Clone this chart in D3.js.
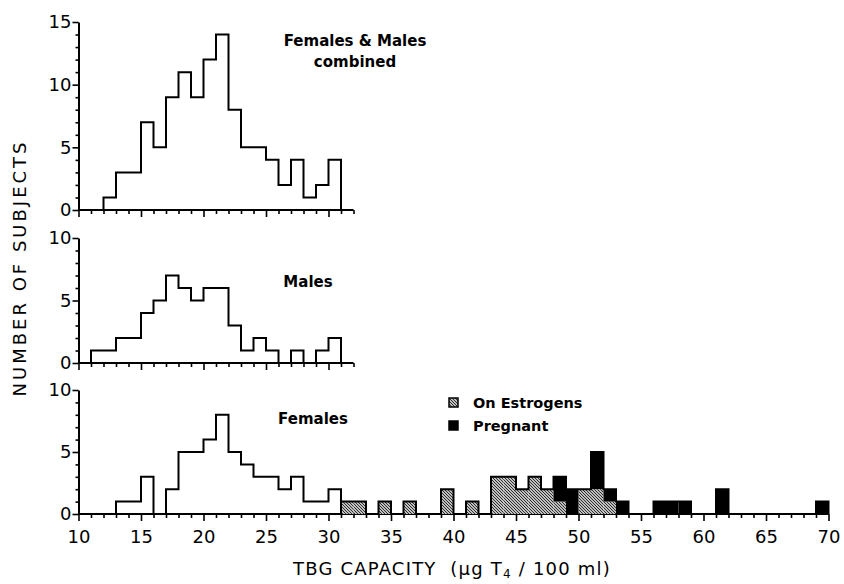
<!DOCTYPE html>
<html>
<head>
<meta charset="utf-8">
<script src="https://cdn.jsdelivr.net/npm/d3@7"></script>
<style>
  body { margin: 0; background: #fff; }
  svg { display: block; }
</style>
</head>
<body>
<div id="chart"></div>
<script>
// histogram counts, one value per 1-unit bin starting at the given TBG value
const combinedStart = 12
const combinedCounts = [1, 3, 3, 7, 5, 9, 11, 9, 12, 14, 8, 5, 5, 4, 2, 4, 1, 2, 4]
const maleStart = 11
const maleCounts = [1, 1, 2, 2, 4, 5, 7, 6, 5, 6, 6, 3, 1, 2, 1, 0, 1, 0, 1, 2]
const femaleStart = 13
const femaleCounts = [1, 1, 3, 0, 2, 5, 5, 6, 8, 5, 4, 3, 3, 2, 3, 1, 1, 2]

const estrogenBins = [31, 32, 34, 36, 39, 41, 43, 44, 45, 46, 47, 48, 50, 51, 52]
const estrogenCounts = [1, 1, 1, 1, 2, 1, 3, 3, 2, 3, 2, 1, 2, 2, 1]
const pregnantBins = [48, 49, 51, 52, 53, 56, 57, 58, 61, 69]
const pregnantCounts = [2, 2, 3, 1, 1, 1, 1, 1, 2, 1]

const xLabelTicks = d3.range(10, 71, 5)
const legendItems = ['On Estrogens', 'Pregnant']

const width = 844
const height = 584
const font = 'DejaVu Sans'

const svg = d3.select('#chart')
  .append('svg')
  .attr('width', width)
  .attr('height', height)
  .attr('viewBox', [0, 0, width, height].join(' '))

svg.append('rect').attr('width', width).attr('height', height).attr('fill', '#fff')

const defs = svg.append('defs')
const hatch = defs.append('pattern')
  .attr('id', 'hatch')
  .attr('patternUnits', 'userSpaceOnUse')
  .attr('width', 3)
  .attr('height', 3)
hatch.append('rect').attr('width', 3).attr('height', 3).attr('fill', '#fff')
hatch.append('path')
  .attr('d', 'M0,0 L3,3 M-1,2 L1,4 M2,-1 L4,1')
  .attr('stroke', '#222')
  .attr('stroke-width', 1.1)

const x = d3.scaleLinear().domain([10, 70]).range([78.5, 828.5])

const panels = [
  { start: combinedStart, counts: combinedCounts, max: 15, range: [210, 22], end: 32,
    label: ['Females & Males', 'combined'], labelPos: [355, 46] },
  { start: maleStart, counts: maleCounts, max: 10, range: [363, 238], end: 32,
    label: ['Males'], labelPos: [308, 287] },
  { start: femaleStart, counts: femaleCounts, max: 10, range: [514, 390], end: 70,
    label: ['Females'], labelPos: [313, 424] }
]

const stepLine = y => d3.line()
  .x(d => x(d.v))
  .y(d => y(d.c))
  .curve(d3.curveStepAfter)

const stepPoints = (start, counts) => [
  { v: start, c: 0 },
  ...counts.map((c, i) => ({ v: start + i, c })),
  { v: start + counts.length, c: 0 }
]

panels.forEach((p, idx) => {
  const y = d3.scaleLinear().domain([0, p.max]).range(p.range)
  const g = svg.append('g').attr('class', 'panel')
  p.y = y

  // Y axis
  const yAxis = g.append('g')
    .attr('transform', `translate(${x(10)},0)`)
    .call(d3.axisLeft(y)
      .tickValues(d3.range(0, p.max + 1))
      .tickSize(3)
      .tickSizeOuter(0)
      .tickFormat(d => d % 5 === 0 ? d : ''))
  yAxis.select('.domain').attr('stroke', '#000').attr('stroke-width', 2)
  yAxis.selectAll('.tick line')
    .attr('stroke', '#000').attr('stroke-width', 1.6)
    .attr('x2', d => d % 5 === 0 ? -6 : -3)
  yAxis.selectAll('.tick text')
    .attr('x', -7)
    .attr('font-family', font)
    .attr('font-size', 18)
    .attr('fill', '#000')

  // X axis
  const xAxis = g.append('g')
    .attr('transform', `translate(0,${y(0)})`)
    .call(d3.axisBottom(x)
      .tickValues(d3.range(10, p.end + 1))
      .tickSize(4)
      .tickSizeOuter(0)
      .tickFormat(d => idx === 2 && xLabelTicks.includes(d) ? d : ''))
  xAxis.select('.domain')
    .attr('d', `M${x(10)},0H${x(p.end)}`)
    .attr('stroke', '#000').attr('stroke-width', 2)
  xAxis.selectAll('.tick line')
    .attr('stroke', '#000').attr('stroke-width', 1.6)
    .attr('y2', d => d % 5 === 0 ? 7 : 4)
  xAxis.selectAll('.tick text')
    .attr('y', 16)
    .attr('font-family', font)
    .attr('font-size', 18)
    .attr('fill', '#000')

  // histogram outline
  g.append('path')
    .datum(stepPoints(p.start, p.counts))
    .attr('d', stepLine(y))
    .attr('fill', 'none')
    .attr('stroke', '#000')
    .attr('stroke-width', 2)

  g.append('text')
    .attr('x', p.labelPos[0])
    .attr('y', p.labelPos[1])
    .attr('text-anchor', 'middle')
    .attr('font-family', font)
    .attr('font-weight', 'bold')
    .attr('font-size', 15)
    .selectAll('tspan')
    .data(p.label)
    .join('tspan')
    .attr('x', p.labelPos[0])
    .attr('dy', (d, i) => i === 0 ? 0 : 21)
    .text(d => d)
})

// Estrogen / pregnant stacked bars in the female panel
const yF = panels[2].y
const barG = svg.append('g').attr('class', 'bars')
const estrogenByBin = new Map(estrogenBins.map((b, i) => [b, estrogenCounts[i]]))

barG.selectAll('rect.estrogen')
  .data(estrogenBins.map((b, i) => ({ b, c: estrogenCounts[i] })))
  .join('rect')
  .attr('class', 'estrogen')
  .attr('x', d => x(d.b))
  .attr('width', d => x(d.b + 1) - x(d.b))
  .attr('y', d => yF(d.c))
  .attr('height', d => yF(0) - yF(d.c))
  .attr('fill', 'url(#hatch)')

barG.selectAll('rect.pregnant')
  .data(pregnantBins.map((b, i) => ({ b, c: pregnantCounts[i], base: estrogenByBin.get(b) || 0 })))
  .join('rect')
  .attr('class', 'pregnant')
  .attr('x', d => x(d.b))
  .attr('width', d => x(d.b + 1) - x(d.b))
  .attr('y', d => yF(d.base + d.c))
  .attr('height', d => yF(d.base) - yF(d.base + d.c))
  .attr('fill', '#000')

// outline of the stacked bars
const totalStart = 31
const totals = d3.range(totalStart, 70).map(b => {
  const pi = pregnantBins.indexOf(b)
  return (estrogenByBin.get(b) || 0) + (pi >= 0 ? pregnantCounts[pi] : 0)
})
barG.append('path')
  .datum(stepPoints(totalStart, totals))
  .attr('d', stepLine(yF))
  .attr('fill', 'none')
  .attr('stroke', '#000')
  .attr('stroke-width', 2)

// Legend
const legend = svg.append('g').attr('transform', 'translate(449,398)')
legend.selectAll('g')
  .data(legendItems)
  .join('g')
  .attr('transform', (d, i) => `translate(0,${i * 23})`)
  .call(item => {
    item.append('rect')
      .attr('width', 9).attr('height', 9)
      .attr('fill', (d, i) => i === 0 ? 'url(#hatch)' : '#000')
      .attr('stroke', '#000').attr('stroke-width', 1.5)
    item.append('text')
      .attr('x', 24)
      .attr('y', 10)
      .attr('font-family', font)
      .attr('font-weight', 'bold')
      .attr('font-size', 14.5)
      .text(d => d)
  })

// Axis titles
svg.append('text')
  .attr('transform', 'translate(26,268) rotate(-90)')
  .attr('text-anchor', 'middle')
  .attr('font-family', font)
  .attr('font-size', 18)
  .attr('letter-spacing', 3)
  .text('NUMBER OF SUBJECTS')

const xTitle = svg.append('text')
  .attr('x', 452)
  .attr('y', 575)
  .attr('text-anchor', 'middle')
  .attr('font-family', font)
  .attr('font-size', 18)
  .attr('letter-spacing', 1.2)
xTitle.append('tspan').text('TBG CAPACITY\u00a0\u00a0(µg T')
xTitle.append('tspan').attr('font-size', 12).attr('dy', 3).text('4')
xTitle.append('tspan').attr('dy', -3).text('\u00a0/ 100 ml)')
</script>
</body>
</html>
